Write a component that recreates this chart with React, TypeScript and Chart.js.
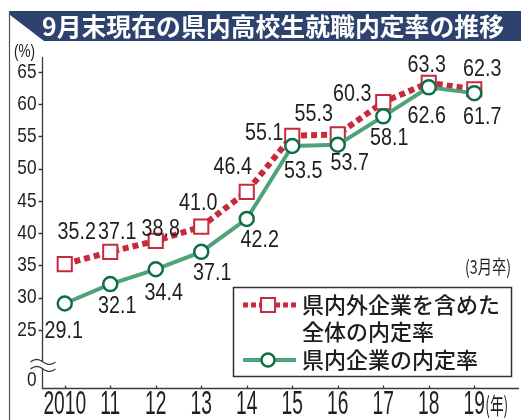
import React, { useEffect, useRef } from 'react';
import { Chart, registerables } from 'chart.js';

Chart.register(...registerables);

// ---- data ----
const years = ['2010', '11', '12', '13', '14', '15', '16', '17', '18', '19'];
const overallRate = [35.2, 37.1, 38.8, 41.0, 46.4, 55.1, 55.3, 60.3, 63.3, 62.3];
const inPrefRate = [29.1, 32.1, 34.4, 37.1, 42.2, 53.5, 53.7, 58.1, 62.6, 61.7];
const yTickValues = [25, 30, 35, 40, 45, 50, 55, 60, 65];
const yZeroLabel = '0';
const titleText = '9月末現在の県内高校生就職内定率の推移';
const legendOverall = ['県内外企業を含めた', '全体の内定率'];
const legendInPref = '県内企業の内定率';
const yUnit = '(%)';
const xUnit = '(年)';
const noteText = '(3月卒)';

// ---- layout for value labels (pixel offsets from each point) ----
const overallLabelDx = [12, 7, 5, -3, -14, -28, -24, -31, -2, 8];
const overallLabelDy = [-32, -19, -12, -23, -24, -2, -20, -8, -17, -20];
const inPrefLabelDx = [-1, 7, 8, 11, 13, 11, 12, 6, -2, 8];
const inPrefLabelDy = [28, 22, 24, 22, 21, 25, 19, 22, 29, 24];

const RED = '#c82a3c';
const GREEN_LINE = '#4fa27a';
const GREEN_DARK = '#0f6e47';
const NAVY = '#2d426f';
const INK = '#1e1e1e';
const NUM_FONT = "'Liberation Sans', Arial, sans-serif";
const JP_FONT = "'Noto Sans CJK JP', 'Noto Sans CJK SC', sans-serif";

const Y_MIN = 16;
const Y_MAX = 67.3;
const Y_ZERO_POS = 17.25;

function drawText(
  ctx: CanvasRenderingContext2D,
  text: string,
  x: number,
  y: number,
  font: string,
  sx: number,
  sy: number,
  align: CanvasTextAlign,
  color: string
) {
  ctx.save();
  ctx.font = font;
  ctx.fillStyle = color;
  ctx.textBaseline = 'middle';
  ctx.textAlign = align;
  ctx.translate(x, y);
  ctx.scale(sx, sy);
  ctx.fillText(text, 0, 0);
  ctx.restore();
}

function fitText(
  ctx: CanvasRenderingContext2D,
  text: string,
  x: number,
  y: number,
  font: string,
  width: number,
  sy: number,
  align: CanvasTextAlign,
  color: string
) {
  ctx.save();
  ctx.font = font;
  const w = ctx.measureText(text).width || 1;
  ctx.restore();
  drawText(ctx, text, x, y, font, width / w, sy, align, color);
}

const decorPlugin = {
  id: 'decor',
  beforeDraw(chart: any) {
    const ctx: CanvasRenderingContext2D = chart.ctx;
    ctx.save();
    ctx.fillStyle = '#ffffff';
    ctx.fillRect(0, 0, chart.width, chart.height);
    // banner
    ctx.fillStyle = NAVY;
    ctx.beginPath();
    ctx.moveTo(10, 11);
    ctx.lineTo(521, 11);
    ctx.lineTo(521, 41);
    ctx.lineTo(44, 41);
    ctx.lineTo(10, 15);
    ctx.closePath();
    ctx.fill();
    ctx.restore();
    fitText(ctx, titleText, 42, 26.5, `bold 25px ${JP_FONT}`, 462, 1, 'left', '#ffffff');
    // frame line on the left
    ctx.save();
    ctx.strokeStyle = '#555';
    ctx.lineWidth = 1.2;
    ctx.beginPath();
    ctx.moveTo(9.5, 11);
    ctx.lineTo(9.5, 420);
    ctx.stroke();
    ctx.restore();
  },
  beforeDatasetsDraw(chart: any) {
    const ctx: CanvasRenderingContext2D = chart.ctx;
    const area = chart.chartArea;
    const xs = chart.scales.x;
    const ys = chart.scales.y;
    const ax = Math.round(area.left) + 0.5;
    const bottom = Math.round(area.bottom) + 0.5;
    const breakTop = ys.getPixelForValue(Y_ZERO_POS) - 18;
    const breakBot = breakTop + 7;
    ctx.save();
    ctx.strokeStyle = '#3a3a3a';
    ctx.lineWidth = 1.3;
    // y axis with break
    ctx.beginPath();
    ctx.moveTo(ax, area.top);
    ctx.lineTo(ax, breakTop);
    ctx.moveTo(ax, breakBot);
    ctx.lineTo(ax, bottom);
    // x axis
    ctx.lineTo(519, bottom);
    ctx.stroke();
    // y tick marks
    ctx.beginPath();
    yTickValues.forEach((v) => {
      const py = Math.round(ys.getPixelForValue(v)) + 0.5;
      ctx.moveTo(ax - 4, py);
      ctx.lineTo(ax, py);
    });
    // x tick marks
    years.forEach((_, i) => {
      const px = Math.round(xs.getPixelForValue(i)) + 0.5;
      ctx.moveTo(px, bottom);
      ctx.lineTo(px, bottom - 3);
    });
    ctx.stroke();
    // break waves
    ctx.lineWidth = 1.3;
    [breakTop, breakBot].forEach((y0) => {
      ctx.beginPath();
      for (let t = 0; t <= 1.0001; t += 0.05) {
        const px = ax - 12 + 25 * t;
        const py = y0 - 2.5 * Math.sin(2 * Math.PI * t);
        if (t === 0) ctx.moveTo(px, py);
        else ctx.lineTo(px, py);
      }
      ctx.stroke();
    });
    ctx.restore();

    // y tick labels
    yTickValues.forEach((v) => {
      drawText(ctx, String(v), ax - 6, ys.getPixelForValue(v), `21px ${NUM_FONT}`, 0.82, 1, 'right', INK);
    });
    drawText(ctx, yZeroLabel, ax - 6, ys.getPixelForValue(Y_ZERO_POS), `21px ${NUM_FONT}`, 0.82, 1, 'right', INK);
    // x tick labels
    years.forEach((lab, i) => {
      drawText(ctx, lab, xs.getPixelForValue(i), 405, `24px ${NUM_FONT}`, 0.8, 1.35, 'center', INK);
    });
    const lastX = xs.getPixelForValue(years.length - 1);
    fitText(ctx, xUnit, lastX + 11, 405, `19px ${JP_FONT}`, 23, 1.2, 'left', INK);
    // units and note
    fitText(ctx, yUnit, 14, 52, `16px ${NUM_FONT}`, 21, 1.1, 'left', INK);
    fitText(ctx, noteText, 511, 267, `18px ${JP_FONT}`, 46, 1.05, 'right', INK);
  },
  afterDatasetsDraw(chart: any) {
    const ctx: CanvasRenderingContext2D = chart.ctx;
    const m0 = chart.getDatasetMeta(0);
    const m1 = chart.getDatasetMeta(1);
    m0.data.forEach((pt: any, i: number) => {
      drawText(ctx, overallRate[i].toFixed(1), pt.x + overallLabelDx[i], pt.y + overallLabelDy[i], `24px ${NUM_FONT}`, 0.82, 1, 'center', INK);
    });
    m1.data.forEach((pt: any, i: number) => {
      drawText(ctx, inPrefRate[i].toFixed(1), pt.x + inPrefLabelDx[i], pt.y + inPrefLabelDy[i], `24px ${NUM_FONT}`, 0.82, 1, 'center', INK);
    });
  },
  afterDraw(chart: any) {
    const ctx: CanvasRenderingContext2D = chart.ctx;
    ctx.save();
    // legend box
    ctx.fillStyle = '#ffffff';
    ctx.fillRect(233.5, 287.5, 278, 89);
    ctx.strokeStyle = '#333';
    ctx.lineWidth = 1.5;
    ctx.strokeRect(233.5, 287.5, 278, 89);
    // red marker
    ctx.strokeStyle = RED;
    ctx.lineWidth = 5;
    ctx.setLineDash([5, 3]);
    ctx.beginPath();
    ctx.moveTo(243, 305);
    ctx.lineTo(296, 305);
    ctx.stroke();
    ctx.setLineDash([]);
    ctx.fillStyle = '#fff';
    ctx.fillRect(261, 298, 14, 14);
    ctx.lineWidth = 2;
    ctx.strokeRect(261, 298, 14, 14);
    // green marker
    ctx.strokeStyle = GREEN_LINE;
    ctx.lineWidth = 4;
    ctx.beginPath();
    ctx.moveTo(243, 360);
    ctx.lineTo(296, 360);
    ctx.stroke();
    ctx.beginPath();
    ctx.arc(268, 360, 6.5, 0, Math.PI * 2);
    ctx.fillStyle = '#fff';
    ctx.fill();
    ctx.strokeStyle = GREEN_DARK;
    ctx.lineWidth = 2.5;
    ctx.stroke();
    ctx.restore();
    fitText(ctx, legendOverall[0], 302, 305, `500 22px ${JP_FONT}`, 198, 1, 'left', INK);
    fitText(ctx, legendOverall[1], 302, 332, `500 22px ${JP_FONT}`, 132, 1, 'left', INK);
    fitText(ctx, legendInPref, 302, 360, `500 22px ${JP_FONT}`, 176, 1, 'left', INK);
  },
};

export default function App() {
  const ref = useRef<HTMLCanvasElement | null>(null);
  useEffect(() => {
    document.body.style.margin = '0';
    const canvas = ref.current;
    if (!canvas) return;
    const chart = new Chart(canvas, {
      type: 'line',
      data: {
        labels: years,
        datasets: [
          {
            label: legendOverall.join(''),
            data: overallRate,
            borderColor: RED,
            borderWidth: 6,
            borderDash: [6, 4],
            borderCapStyle: 'butt',
            pointStyle: 'rect',
            pointRadius: 10,
            pointBorderWidth: 2,
            pointBackgroundColor: '#ffffff',
            pointBorderColor: RED,
            tension: 0,
            order: 1,
          },
          {
            label: legendInPref,
            data: inPrefRate,
            borderColor: GREEN_LINE,
            borderWidth: 4,
            pointStyle: 'circle',
            pointRadius: 7,
            pointBorderWidth: 2.5,
            pointBackgroundColor: '#ffffff',
            pointBorderColor: GREEN_DARK,
            tension: 0,
            order: 0,
          },
        ],
      },
      options: {
        animation: false,
        responsive: false,
        maintainAspectRatio: false,
        layout: { padding: { top: 57, right: 24, left: 0, bottom: 0 } },
        plugins: {
          legend: { display: false },
          tooltip: { enabled: false },
          title: { display: false },
        },
        scales: {
          x: {
            type: 'category',
            offset: true,
            grid: { display: false },
            border: { display: false },
            ticks: { display: false },
            afterFit: (s: any) => {
              s.height = 32;
            },
          },
          y: {
            type: 'linear',
            min: Y_MIN,
            max: Y_MAX,
            grid: { display: false },
            border: { display: false },
            ticks: { display: false },
            afterBuildTicks: (s: any) => {
              s.ticks = [Y_ZERO_POS, ...yTickValues].map((v) => ({ value: v }));
            },
            afterFit: (s: any) => {
              s.width = 42;
            },
          },
        },
      },
      plugins: [decorPlugin],
    } as any);
    return () => chart.destroy();
  }, []);
  return <canvas ref={ref} width={521} height={420} style={{ display: 'block', width: 521, height: 420 }} />;
}
